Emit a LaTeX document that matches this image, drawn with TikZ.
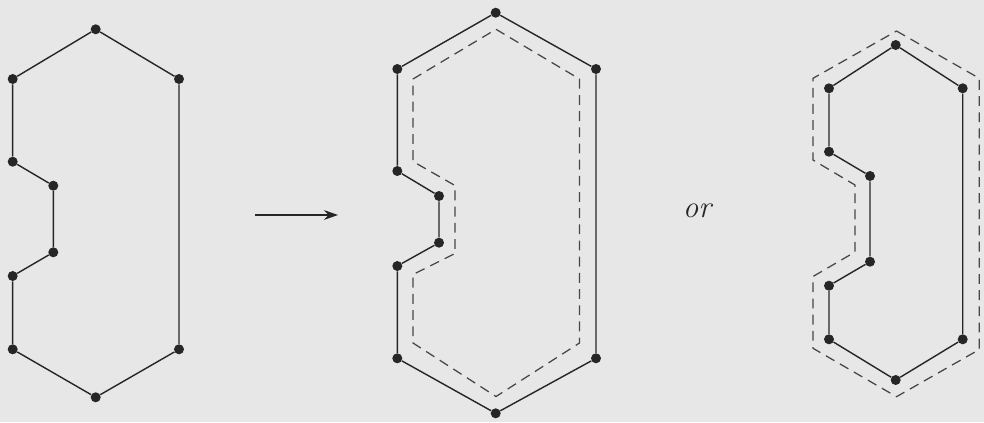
\documentclass[tikz,border=0pt]{standalone}
\usepackage{xcolor}
\definecolor{paperGrey}{HTML}{E7E7E7}
\definecolor{inkDark}{HTML}{262626}
\definecolor{inkDash}{HTML}{474747}
\usepackage{tikz}
\usetikzlibrary{arrows.meta}

\begin{document}
\begin{tikzpicture}[
		x=0.025cm, y=-0.025cm,
		vertex/.style={
			circle,
			fill=inkDark,
			inner sep=0pt,
			minimum size=0.25cm
		},
		edge/.style={draw=inkDark, line width=1pt},
		offsetline/.style={draw=inkDash, line width=0.9pt, dash pattern=on 7pt off 4.5pt},
		arrow/.style={-{Stealth[length=10pt, width=7pt]}, draw=inkDark, line width=1pt}
		]
		
		\fill[paperGrey] (0,0) rectangle (984,422);
		\useasboundingbox (0,0) rectangle (984,422);
		
		% original polygon
		\node[vertex] (a1) at (95.7,29.3) {};
		\node[vertex] (a2) at (179,79) {};
		\node[vertex] (a3) at (179,349.3) {};
		\node[vertex] (a4) at (95.7,397.3) {};
		\node[vertex] (a5) at (12.7,349.3) {};
		\node[vertex] (a6) at (12.7,276) {};
		\node[vertex] (a7) at (53.3,252.3) {};
		\node[vertex] (a8) at (53.3,185.7) {};
		\node[vertex] (a9) at (12.7,161.7) {};
		\node[vertex] (a10) at (12.7,79) {};
		
		\draw[edge] (a1) -- (a2) -- (a3) -- (a4) -- (a5) -- (a6) -- (a7) -- (a8) -- (a9) -- (a10) -- (a1);
		
		% arrow
		\coordinate (from) at (255,215);
		\coordinate (to) at (338,215);
		\draw[arrow] (from) -- (to);
		
		% outer offset
		\draw[offsetline] (496,29.3) -- (579.5,79) -- (579.5,343) -- (496,396.5) -- (413,343) -- (413,274.5)
			-- (455,253.5) -- (455,185.5) -- (413,161.5) -- (413,79) -- cycle;
		
		\node[vertex] (b1) at (495.7,12.7) {};
		\node[vertex] (b2) at (596,69) {};
		\node[vertex] (b3) at (596,358.3) {};
		\node[vertex] (b4) at (495.7,413.3) {};
		\node[vertex] (b5) at (397.3,358.3) {};
		\node[vertex] (b6) at (397.3,266) {};
		\node[vertex] (b7) at (439,242.7) {};
		\node[vertex] (b8) at (439,196) {};
		\node[vertex] (b9) at (397.3,171) {};
		\node[vertex] (b10) at (397.3,69) {};
		
		\draw[edge] (b1) -- (b2) -- (b3) -- (b4) -- (b5) -- (b6) -- (b7) -- (b8) -- (b9) -- (b10) -- (b1);
		
		\node[font=\fontsize{22}{26}\selectfont\itshape, text=inkDark] (or) at (697,211) {or};
		
		% inner offset
		\draw[offsetline] (896.5,31) -- (979.3,78.3) -- (979.3,349.5) -- (896.5,396.7) -- (813,348.3) -- (813,276.5)
			-- (855,252) -- (855,185) -- (813,160) -- (813,78.3) -- cycle;
		
		\node[vertex] (c1) at (895.7,45) {};
		\node[vertex] (c2) at (962.7,88.3) {};
		\node[vertex] (c3) at (962.7,339.3) {};
		\node[vertex] (c4) at (895.7,380) {};
		\node[vertex] (c5) at (829,339.3) {};
		\node[vertex] (c6) at (829,285.7) {};
		\node[vertex] (c7) at (870,261.7) {};
		\node[vertex] (c8) at (870,176) {};
		\node[vertex] (c9) at (829,151.7) {};
		\node[vertex] (c10) at (829,88.3) {};
		
		\draw[edge] (c1) -- (c2) -- (c3) -- (c4) -- (c5) -- (c6) -- (c7) -- (c8) -- (c9) -- (c10) -- (c1);
		
	\end{tikzpicture}
\end{document}
